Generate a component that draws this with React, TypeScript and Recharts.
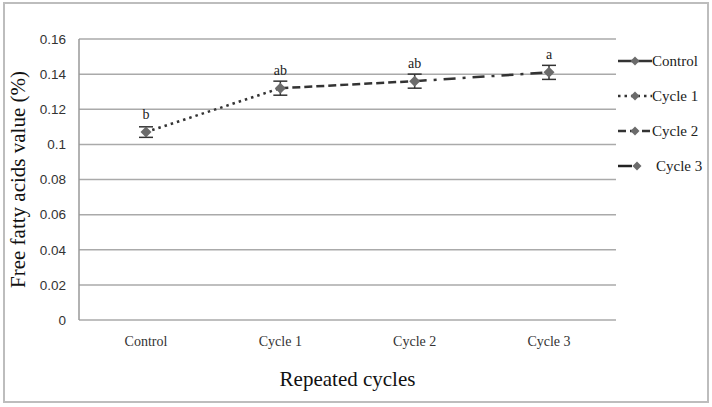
import { LineChart, Line, XAxis, YAxis, CartesianGrid, ErrorBar, LabelList, Legend } from 'recharts';

const categories = ['Control', 'Cycle 1', 'Cycle 2', 'Cycle 3'];
const meanValues = [0.107, 0.132, 0.136, 0.141];
const errorValues = [0.003, 0.004, 0.004, 0.004];
const letters = ['b', 'ab', 'ab', 'a'];
const controlSeries = [0.107, null, null, null];
const cycle1Series = [0.107, 0.132, null, null];
const cycle2Series = [null, 0.132, 0.136, null];
const cycle3Series = [null, null, 0.136, 0.141];
const yTicks = [0, 0.02, 0.04, 0.06, 0.08, 0.1, 0.12, 0.14, 0.16];

const seriesStyles = [
  { name: 'Control', key: 'control', dash: undefined },
  { name: 'Cycle 1', key: 'cycle1', dash: '2.5 4' },
  { name: 'Cycle 2', key: 'cycle2', dash: '8 4' },
  { name: 'Cycle 3', key: 'cycle3', dash: '12 7 3 7' },
];

const data = categories.map((name, i) => ({
  name,
  mean: meanValues[i],
  err: errorValues[i],
  letter: letters[i],
  control: controlSeries[i],
  cycle1: cycle1Series[i],
  cycle2: cycle2Series[i],
  cycle3: cycle3Series[i],
}));

const LINE = '#333';
const MARK = '#6b6b6b';
const SERIF = '"Liberation Serif", "Times New Roman", serif';

function Diamond(props: any) {
  const { cx, cy } = props;
  if (cx == null || cy == null) return null;
  const r = 5.5;
  return <polygon points={`${cx},${cy - r} ${cx + r},${cy} ${cx},${cy + r} ${cx - r},${cy}`} fill={MARK} />;
}

function Letter(props: any) {
  const { x, y, width, value } = props;
  return (
    <text x={x + width / 2} y={y - 13} textAnchor="middle" fontFamily={SERIF} fontSize={14} fill="#222">
      {value}
    </text>
  );
}

function LegendBox() {
  return (
    <svg width={96} height={140}>
      {seriesStyles.map((s, i) => {
        const y = 11 + i * 35;
        const isLast = i === 3;
        return (
          <g key={s.key}>
            <line
              x1={2}
              x2={isLast ? 16 : 36}
              y1={y}
              y2={y}
              stroke={isLast ? '#222' : LINE}
              strokeWidth={2.5}
              strokeDasharray={isLast ? undefined : s.dash}
            />
            <polygon
              points={`${19},${y - 4.5} ${23.5},${y} ${19},${y + 4.5} ${14.5},${y}`}
              fill={MARK}
              transform={isLast ? 'translate(2,0)' : undefined}
            />
            <text x={isLast ? 40 : 36} y={y + 5} fontFamily={SERIF} fontSize={15} fill="#222">
              {s.name}
            </text>
          </g>
        );
      })}
    </svg>
  );
}

function YTitle(props: any) {
  const { viewBox } = props;
  const cy = viewBox.y + viewBox.height / 2;
  return (
    <text
      x={18}
      y={cy}
      transform={`rotate(-90, 18, ${cy})`}
      textAnchor="middle"
      dominantBaseline="central"
      fontFamily={SERIF}
      fontSize={21}
      fill="#111"
    >
      Free fatty acids value (%)
    </text>
  );
}

export default function App() {
  return (
    <div style={{ position: 'absolute', left: 0, top: 0, width: 712, height: 407, background: '#fff' }}>
      <div
        style={{
          position: 'absolute',
          left: 3,
          top: 2,
          width: 702,
          height: 397,
          border: '2px solid #bdbdbd',
        }}
      />
      <LineChart
        width={712}
        height={407}
        data={data}
        margin={{ top: 39, right: 0, bottom: 0, left: 0 }}
        style={{ position: 'absolute', left: 0, top: 0 }}
      >
        <CartesianGrid vertical={false} stroke="#aaa" strokeWidth={1.5} />
        <XAxis
          dataKey="name"
          height={87}
          padding={{ left: 67, right: 67 }}
          axisLine={false}
          tickLine={false}
          tickSize={0}
          tickMargin={16}
          tick={{ fontFamily: SERIF, fontSize: 14, fill: '#333' }}
          label={{
            value: 'Repeated cycles',
            position: 'insideTop',
            offset: 51,
            style: { fontFamily: SERIF, fontSize: 21, fill: '#111' },
          }}
        />
        <YAxis
          width={79}
          domain={[0, 0.16]}
          ticks={yTicks}
          interval={0}
          axisLine={{ stroke: '#999', strokeWidth: 1.5 }}
          tickLine={false}
          tickSize={0}
          tickMargin={13}
          tick={{ fontFamily: '"Liberation Sans", Arial, sans-serif', fontSize: 13.5, fill: '#333' }}
          tickFormatter={(v: number) => String(Number(v.toFixed(2)))}
          label={<YTitle />}
        />
        <Legend
          layout="vertical"
          align="right"
          verticalAlign="top"
          wrapperStyle={{ left: 616, top: 50, width: 96 }}
          content={() => <LegendBox />}
        />
        {seriesStyles.map((s) => (
          <Line
            key={s.key}
            dataKey={s.key}
            name={s.name}
            stroke={LINE}
            strokeWidth={2.5}
            strokeDasharray={s.dash}
            dot={false}
            activeDot={false}
            connectNulls={false}
            isAnimationActive={false}
          />
        ))}
        <Line
          dataKey="mean"
          stroke="none"
          dot={<Diamond />}
          activeDot={false}
          legendType="none"
          isAnimationActive={false}
        >
          <ErrorBar dataKey="err" width={7} stroke="#333" strokeWidth={1.5} direction="y" isAnimationActive={false} />
          <LabelList dataKey="letter" content={<Letter />} />
        </Line>
      </LineChart>
    </div>
  );
}
